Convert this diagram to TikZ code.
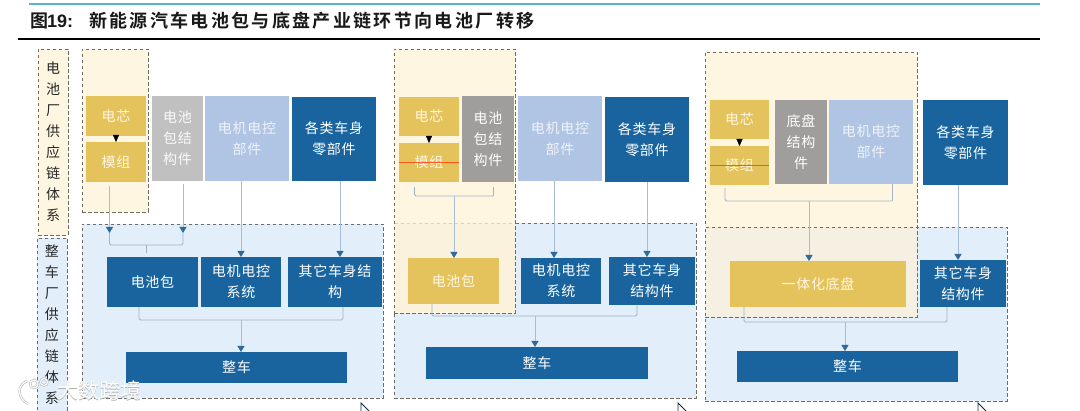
\documentclass[tikz,border=0pt]{standalone}
\usepackage{fontspec}
\usetikzlibrary{arrows.meta}
\newfontfamily\cjkbody[LetterSpace=5]{Noto Sans CJK SC}
\newfontfamily\cjktitle[LetterSpace=13,BoldFont={Noto Sans CJK SC Bold}]{Noto Sans CJK SC}
\newfontfamily\latintitle{Liberation Sans}
\newfontfamily\cjkmark{Noto Sans CJK SC}
\definecolor{cyel}{HTML}{E5C35C}
\definecolor{cgrayl}{HTML}{C0C0C0}
\definecolor{cgrayd}{HTML}{A09E9C}
\definecolor{clight}{HTML}{B0C4E3}
\definecolor{cblue}{HTML}{19649E}
\definecolor{cregion}{HTML}{E2EEF9}
\definecolor{cpale}{HTML}{FFF6E1}
\definecolor{cover}{HTML}{FAF2DC}
\definecolor{coverb}{HTML}{F5F0E1}
\definecolor{cdash}{HTML}{6F6B62}
\definecolor{cline}{HTML}{A6BDD3}
\definecolor{chead}{HTML}{2F6A9C}
\definecolor{ctop}{HTML}{5CB4CB}
\tikzset{
  x=1pt,y=-1pt,
  box/.style={anchor=north west,inner sep=0pt,outer sep=0pt,font=\cjkbody\fontsize{14}{21}\selectfont,align=center,minimum width=#1},
  boxh/.style={minimum height=#1},
  yel/.style={fill=cyel,text=cpale},
  grayl/.style={fill=cgrayl,text=white!92!cgrayl},
  grayd/.style={fill=cgrayd,text=white},
  lightb/.style={fill=clight,text=white!80!clight},
  darkb/.style={fill=cblue,text=white},
  dashedge/.style={draw=cdash,line width=.9pt,dash pattern=on 3.5pt off 2.5pt},
  region/.style={dashedge,fill=cregion},
  pale/.style={dashedge,fill=cpale},
  panel/.style={anchor=north west,inner sep=0pt,outer sep=0pt},
  feed/.style={draw=cline,line width=.8pt,-{Triangle[length=6pt,width=7pt,color=chead]}},
  joinline/.style={draw=cline!85!gray,line width=.8pt,rounded corners=1.5pt},
  tiny/.style={draw=black,line width=.3pt,-{Triangle[length=7pt,width=6pt,color=black]}},
  strike/.style={draw=red!60!orange,line width=1pt,opacity=.75},
  sidebox/.style={panel,font=\cjkbody\fontsize{14}{21}\selectfont,align=center,text=black!85},
  cursor/.style={draw=black!55!cblue,line width=.9pt},
  markshade/.style={draw=black!35,line width=2.2pt},
  markwhite/.style={draw=white,line width=1.3pt},
}
\newcommand{\bx}[7]{\node[box=#4-#2,boxh=#5-#3,#6] (#1) at (#2,#3) {#7};}
\begin{document}
\begin{tikzpicture}
\useasboundingbox (0,0) rectangle (1080,411);
\fill[white] (0,0) rectangle (1080,411);
% header
\coordinate (rulea) at (29,4); \coordinate (ruleb) at (1040,4);
\draw[draw=ctop,line width=1.4pt] (rulea) -- (ruleb);
\coordinate (rulec) at (18,39); \coordinate (ruled) at (1040,39);
\draw[black,line width=1.2pt] (rulec) -- (ruled);
\node[anchor=west,inner sep=0pt,text=black!90] (title) at (30,21)
  {\bfseries\cjktitle\fontsize{18}{18}\selectfont 图\hspace{-1pt}{\latintitle\bfseries\fontsize{18}{18}\selectfont 19:}\hspace{16pt}新能源汽车电池包与底盘产业链环节向电池厂转移};
% side labels
\node[sidebox,pale,minimum width=30pt,minimum height=186pt] (side1) at (38,49)
  {电\\池\\厂\\供\\应\\链\\体\\系};
\node[sidebox,region,minimum width=30pt,minimum height=173pt] (side2) at (37,238)
  {整\\车\\厂\\供\\应\\链\\体\\系};
% ===== panel 1
\node[region,panel,minimum width=301pt,minimum height=174pt] (r1) at (82,224) {};
\node[pale,panel,minimum width=66pt,minimum height=163pt] (y1) at (82,49) {};
\bx{cella}{86}{96}{146}{136}{yel}{电芯}
\bx{moda}{86}{142}{146}{182}{yel}{模组}
\bx{graya}{152}{96}{203}{181}{grayl}{电池\\包结\\构件}
\bx{lighta}{205}{96}{289}{181}{lightb}{电机电控\\部件}
\bx{bluea}{292}{97}{376}{181}{darkb}{各类车身\\零部件}
\bx{packa}{107}{257}{198}{307}{darkb}{电池包}
\bx{moa}{201}{257}{281}{307}{darkb}{电机电控\\系统}
\bx{otha}{288}{257}{382}{307}{darkb}{其它车身结\\构}
\bx{cara}{126}{352}{347}{383}{darkb}{整车}
\draw[tiny] (cella.south) -- (moda.north);
\coordinate (a1) at (109.5,233); \coordinate (a2) at (183,233);
\coordinate (a3) at (146,245);\coordinate (a4) at (139,320);\coordinate (a5) at (343,320);\coordinate (a6) at (241,320);
\coordinate (a7) at (340,200);
\draw[feed,shorten <=4pt] (moda.south -| a1) -- (a1);
\draw[feed,shorten <=3pt] (graya.south -| a2) -- (a2);
\draw[joinline] (a1) |- (a3) -| (a2);
\draw[joinline,shorten >=4pt] (a3) -- (packa.north -| a3);
\draw[feed] (lighta.south -| a6) -- (moa.north -| a6);
\draw[feed] (bluea.south -| a7) -- (otha.north -| a7);
\draw[joinline] (packa.south -| a4) |- (a6) -| (a5) -- (otha.south -| a5);
\draw[feed] (a6) -- (cara.north -| a6);
% ===== panel 2
\node[region,panel,minimum width=302pt,minimum height=175pt] (r2) at (394,223) {};
\node[pale,panel,minimum width=121pt,minimum height=264pt] (y2) at (394,49) {};
\fill[cover] (394.5,223.5) rectangle (514.5,312.5);
\draw[draw=cdash!25!cpale,line width=.8pt,dash pattern=on 3.5pt off 2.5pt] (394.5,223) -- (514.5,223);
\bx{cellb}{399}{97}{459}{136}{yel}{电芯}
\bx{modb}{399}{143}{459}{182}{yel}{模组}
\bx{grayb}{462}{96}{514}{182}{grayd}{电池\\包结\\构件}
\bx{lightb}{518}{96}{602}{181}{lightb}{电机电控\\部件}
\bx{blueb}{605}{97}{689}{182}{darkb}{各类车身\\零部件}
\bx{packb}{408}{258}{499}{304}{yel}{电池包}
\bx{mob}{521}{258}{601}{304}{darkb}{电机电控\\系统}
\bx{othb}{609}{257}{695}{305}{darkb}{其它车身\\结构件}
\bx{carb}{426}{347}{648}{379}{darkb}{整车}
\draw[tiny] (cellb.south) -- (modb.north);
\draw[strike] (modb.west) -- (modb.east);
\coordinate (b1) at (414.5,196); \coordinate (b2) at (493,196); \coordinate (b3) at (454,196);
\coordinate (b4) at (432,316); \coordinate (b5) at (637,316); \coordinate (b6) at (535,316);
\coordinate (b7) at (554,200); \coordinate (b8) at (647,200);
\draw[joinline,shorten <=5pt] (modb.south -| b1) -- (b1) -- (b2);
\draw[joinline,shorten >=5pt] (b2) -- (grayb.south -| b2);
\draw[feed] (b3) -- (packb.north -| b3);
\draw[feed] (lightb.south -| b7) -- (mob.north -| b7);
\draw[feed] (blueb.south -| b8) -- (othb.north -| b8);
\draw[joinline] (packb.south -| b4) |- (b6) -| (b5) -- (othb.south -| b5);
\draw[feed] (b6) -- (carb.north -| b6);
% ===== panel 3
\node[region,panel,minimum width=302pt,minimum height=174pt] (r3) at (705,227) {};
\node[pale,panel,minimum width=212pt,minimum height=175pt] (y3) at (705,52) {};
\node[dashedge,fill=coverb,panel,minimum width=212pt,minimum height=90pt] (o3) at (705,227) {};
\bx{cellc}{710}{100}{769}{139}{yel}{电芯}
\bx{modc}{710}{146}{769}{185}{yel}{模组}
\bx{grayc}{775}{100}{827}{184}{grayd}{底盘\\结构\\件}
\bx{lightc}{829}{100}{913}{184}{lightb}{电机电控\\部件}
\bx{bluec}{923}{100}{1008}{185}{darkb}{各类车身\\零部件}
\bx{chassis}{730}{261}{906}{307}{yel}{一体化底盘}
\bx{othc}{920}{260}{1006}{307}{darkb}{其它车身\\结构件}
\bx{carc}{737}{351}{958}{382}{darkb}{整车}
\draw[tiny] (cellc.south) -- (modc.north);
\draw[strike] (modc.west) -- (modc.east);
\coordinate (c1) at (725,201); \coordinate (c2) at (892,201); \coordinate (c3) at (809,201);
\coordinate (c4) at (744,322); \coordinate (c5) at (947,322); \coordinate (c6) at (845,322);
\coordinate (c7) at (958,200);
\draw[joinline,shorten <=3pt] (modc.south -| c1) -- (c1) -- (c2);
\draw[joinline] (c2) -- (lightc.south -| c2);
\draw[feed] (c3) -- (chassis.north -| c3);
\draw[feed] (bluec.south -| c7) -- (othc.north -| c7);
\draw[joinline] (chassis.south -| c4) |- (c6) -| (c5) -- (othc.south -| c5);
\draw[feed] (c6) -- (carc.north -| c6);
% cursor marks cut by the lower edge
\draw[cursor] (361,411) -- (361,403) -- (369,411);
\draw[cursor] (678,411) -- (678,403) -- (686,411);
\draw[cursor] (978,411) -- (978,403) -- (986,411);
% watermark
\foreach \s in {markshade,markwhite}{
  \draw[\s] (13,384) -- (13,402);
  \draw[\s] (27,381) .. controls (17,385) and (17,398) .. (28,404);
  \draw[\s] (34,384) circle (4);
  \draw[\s] (44,382) circle (3.5);
}
\node[anchor=west,inner sep=0pt,font=\cjkmark\fontsize{21}{21}\selectfont,text=black!30] (markb) at (57.6,391.6) {大数跨境};
\node[anchor=west,inner sep=0pt,font=\cjkmark\fontsize{21}{21}\selectfont,text=white] (mark) at (57,391) {大数跨境};
\end{tikzpicture}
\end{document}
